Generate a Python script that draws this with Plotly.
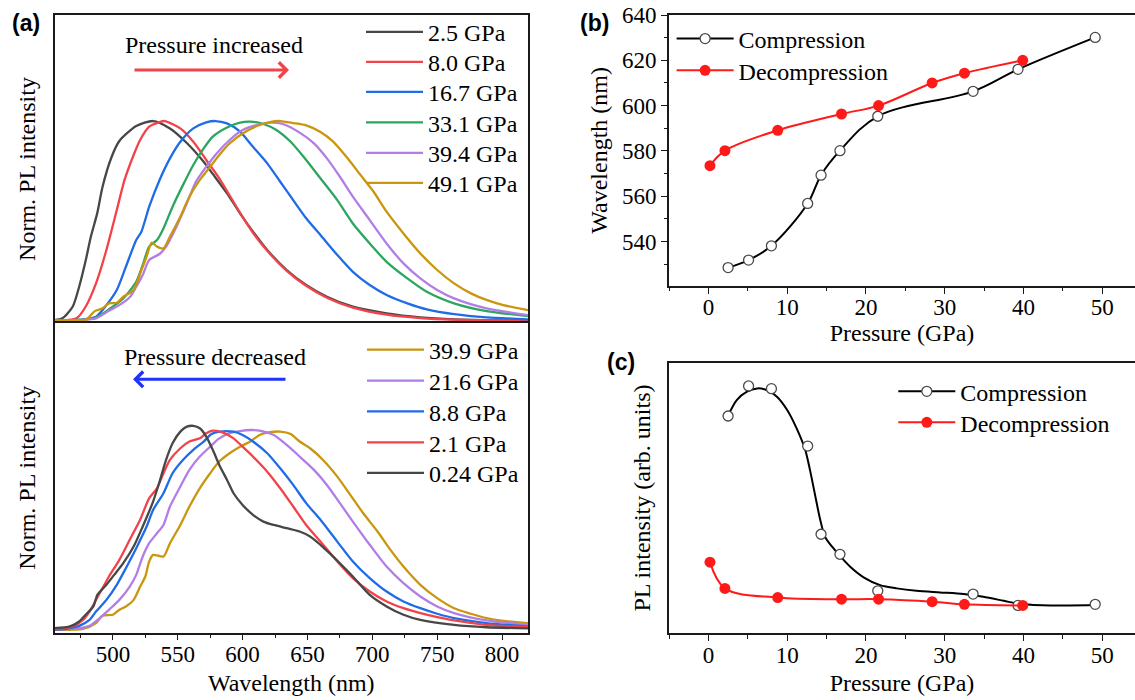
import plotly.graph_objects as go

# ---------------- (a) PL spectra under compression (normalized) ----------------
wl_25 = [455, 461, 469, 474, 479, 483, 488, 492, 499, 505, 518, 531, 544, 557, 570, 577,
         588, 598, 608, 619, 634, 649, 665, 685, 711, 737, 763, 820]
I_25 = [0.003, 0.012, 0.07, 0.17, 0.30, 0.42, 0.54, 0.67, 0.82, 0.90, 0.975, 1.0, 0.963, 0.89,
        0.796, 0.735, 0.638, 0.538, 0.446, 0.354, 0.254, 0.179, 0.12, 0.07, 0.037, 0.017, 0.007, 0.0]

wl_80 = [455, 465, 472, 479, 487, 495, 503, 509, 516, 521, 528, 536, 540, 552, 562, 572, 582,
         598, 608, 619, 634, 649, 665, 685, 711, 737, 763, 820]
I_80 = [0.0, 0.003, 0.012, 0.07, 0.187, 0.354, 0.554, 0.705, 0.83, 0.905, 0.972, 0.995, 1.0,
        0.963, 0.896, 0.805, 0.713, 0.541, 0.44, 0.35, 0.25, 0.175, 0.115, 0.065, 0.03, 0.013, 0.005, 0.0]

wl_167 = [455, 475, 487, 495, 503, 510, 518, 522, 528, 536, 544, 552, 562, 572, 579, 588, 598,
          608, 619, 629, 639, 649, 660, 673, 685, 698, 711, 727, 742, 763, 788, 820]
I_167 = [0.0, 0.004, 0.02, 0.078, 0.154, 0.27, 0.404, 0.446, 0.571, 0.705, 0.813, 0.896, 0.963,
         0.993, 1.0, 0.988, 0.947, 0.871, 0.788, 0.696, 0.604, 0.513, 0.429, 0.329, 0.245, 0.179,
         0.129, 0.087, 0.057, 0.033, 0.017, 0.007]

wl_331 = [455, 475, 487, 497, 508, 518, 523, 528, 534, 539, 546, 554, 562, 570, 577, 588, 598,
          606, 616, 626, 637, 647, 660, 673, 685, 698, 711, 727, 742, 763, 788, 820]
I_331 = [0.0, 0.005, 0.017, 0.057, 0.112, 0.195, 0.279, 0.371, 0.404, 0.462, 0.571, 0.679, 0.78,
         0.863, 0.922, 0.968, 0.992, 0.997, 0.985, 0.955, 0.896, 0.821, 0.713, 0.604, 0.487, 0.387,
         0.295, 0.212, 0.145, 0.087, 0.048, 0.023]

wl_394 = [455, 475, 487, 497, 505, 513, 518, 523, 528, 536, 541, 549, 557, 564, 572, 580, 590,
          600, 611, 621, 631, 644, 655, 665, 675, 685, 698, 711, 724, 737, 750, 763, 788, 820]
I_394 = [0.0, 0.004, 0.012, 0.05, 0.078, 0.117, 0.17, 0.229, 0.304, 0.334, 0.371, 0.471, 0.588,
         0.696, 0.771, 0.838, 0.905, 0.955, 0.98, 0.992, 0.985, 0.942, 0.888, 0.813, 0.721, 0.621,
         0.504, 0.387, 0.287, 0.212, 0.154, 0.112, 0.062, 0.028]

wl_491 = [455, 470, 479, 486, 492, 497, 503, 508, 516, 522, 526, 530, 534, 539, 544, 552, 559,
          567, 575, 582, 590, 600, 611, 621, 629, 639, 649, 660, 670, 680, 691, 701, 711, 724,
          737, 750, 763, 776, 788, 801, 820]
I_491 = [0.0, 0.002, 0.003, 0.048, 0.062, 0.087, 0.09, 0.12, 0.154, 0.254, 0.321, 0.391, 0.371,
         0.362, 0.421, 0.521, 0.621, 0.705, 0.771, 0.83, 0.888, 0.938, 0.975, 0.995, 1.0, 0.99,
         0.978, 0.945, 0.896, 0.821, 0.729, 0.646, 0.546, 0.437, 0.337, 0.254, 0.187, 0.137,
         0.104, 0.078, 0.053]

# ---------------- (a) PL spectra under decompression (normalized) ----------------
wl_399 = [455, 477, 487, 492, 500, 505, 510, 516, 521, 525, 528, 531, 539, 544, 552, 559, 567,
          575, 582, 590, 598, 606, 613, 621, 629, 637, 644, 652, 662, 673, 683, 693, 704, 714,
          724, 737, 750, 763, 776, 788, 801, 820]
I_399 = [0.0, 0.005, 0.034, 0.071, 0.076, 0.101, 0.118, 0.151, 0.218, 0.269, 0.345, 0.378, 0.37,
         0.437, 0.529, 0.622, 0.714, 0.79, 0.849, 0.891, 0.924, 0.95, 0.983, 0.997, 1.0, 0.988,
         0.95, 0.916, 0.857, 0.773, 0.681, 0.588, 0.496, 0.403, 0.319, 0.227, 0.16, 0.109, 0.081,
         0.059, 0.045, 0.034]

wl_216 = [455, 474, 482, 490, 497, 505, 513, 518, 523, 528, 534, 539, 544, 552, 559, 567, 575,
          582, 590, 598, 606, 613, 624, 634, 644, 655, 665, 675, 685, 698, 711, 724, 737, 750,
          763, 788, 820]
I_216 = [0.0, 0.008, 0.02, 0.059, 0.101, 0.151, 0.218, 0.277, 0.37, 0.437, 0.487, 0.529, 0.622,
         0.723, 0.807, 0.874, 0.924, 0.966, 0.992, 1.003, 1.008, 1.005, 0.983, 0.933, 0.874, 0.807,
         0.731, 0.639, 0.546, 0.429, 0.319, 0.235, 0.168, 0.118, 0.084, 0.047, 0.025]

wl_88 = [455, 464, 474, 482, 487, 495, 503, 510, 518, 526, 531, 539, 546, 554, 562, 570, 576,
         582, 593, 600, 608, 619, 629, 639, 649, 660, 673, 685, 698, 711, 724, 737, 750, 763,
         788, 820]
I_88 = [0.0, 0.005, 0.02, 0.05, 0.092, 0.151, 0.227, 0.311, 0.412, 0.521, 0.605, 0.689, 0.79,
        0.857, 0.908, 0.95, 0.988, 1.0, 1.0, 0.983, 0.95, 0.891, 0.815, 0.731, 0.639, 0.555,
        0.445, 0.345, 0.261, 0.193, 0.143, 0.109, 0.081, 0.059, 0.034, 0.017]

wl_21 = [455, 459, 469, 477, 482, 487, 492, 497, 505, 513, 521, 528, 534, 539, 544, 552, 559,
         567, 572, 577, 585, 593, 600, 608, 619, 629, 639, 649, 660, 673, 685, 698, 711, 724,
         737, 750, 763, 788, 820]
I_21 = [0.0, 0.005, 0.017, 0.05, 0.092, 0.151, 0.21, 0.269, 0.353, 0.454, 0.555, 0.664, 0.714,
        0.79, 0.857, 0.916, 0.95, 0.966, 0.992, 1.005, 0.995, 0.966, 0.924, 0.874, 0.798, 0.714,
        0.622, 0.529, 0.445, 0.345, 0.261, 0.193, 0.143, 0.109, 0.084, 0.064, 0.047, 0.025, 0.013]

wl_024 = [455, 467, 474, 479, 485, 488, 495, 501, 508, 516, 523, 531, 536, 541, 546, 552, 557,
          562, 567, 572, 577, 582, 588, 593, 600, 608, 616, 624, 634, 644, 652, 660, 667, 675,
          685, 698, 711, 724, 737, 763, 788, 820]
I_024 = [0.008, 0.017, 0.042, 0.076, 0.118, 0.176, 0.227, 0.277, 0.336, 0.42, 0.521, 0.647,
         0.748, 0.857, 0.941, 1.0, 1.025, 1.029, 1.017, 0.975, 0.908, 0.832, 0.756, 0.689, 0.63,
         0.58, 0.546, 0.529, 0.513, 0.496, 0.471, 0.429, 0.387, 0.336, 0.269, 0.176, 0.118,
         0.076, 0.05, 0.025, 0.013, 0.007]

comp_labels = ["2.5 GPa", "8.0 GPa", "16.7 GPa", "33.1 GPa", "39.4 GPa", "49.1 GPa"]
decomp_labels = ["39.9 GPa", "21.6 GPa", "8.8 GPa", "2.1 GPa", "0.24 GPa"]

# ---------------- (b) peak wavelength and (c) integrated PL intensity ----------------
P_comp = [2.5, 5.1, 8.0, 12.6, 14.3, 16.7, 21.5, 33.6, 39.3, 49.1]
WL_comp = [528.5, 531.8, 538.1, 556.8, 569.3, 580.1, 595.3, 606.3, 616.0, 630.1]
INT_comp = [80.3, 91.4, 90.4, 69.2, 36.6, 29.2, 15.7, 14.5, 10.3, 10.7]

P_dec = [0.2, 2.1, 8.8, 16.9, 21.6, 28.4, 32.5, 39.9]
WL_dec = [573.5, 580.1, 589.1, 596.3, 600.0, 610.0, 614.3, 620.0]
INT_dec = [26.3, 16.6, 13.2, 12.6, 12.6, 11.7, 10.7, 10.3]

# smoothed guide curve through the compression intensities in (c)
P_comp_fit = [2.5, 3.6, 4.9, 6.2, 7.4, 8.7, 10.0, 11.2, 12.3, 12.9, 13.5, 14.2, 14.8, 15.7,
              16.7, 18.0, 19.7, 21.8, 23.9, 26.4, 29.4, 32.4, 34.9, 37.5, 39.6, 41.2, 43.4, 49.1]
INT_comp_fit = [80.5, 86.2, 89.3, 90.5, 89.9, 87.4, 82.5, 75.7, 67.7, 60.3, 51.7, 41.9, 35.7,
                32.0, 28.6, 24.6, 20.7, 17.8, 16.6, 15.7, 15.1, 14.5, 13.5, 12.0, 10.8, 10.5,
                10.3, 10.5]

series_names = ["Compression", "Decompression"]

# ---------------- styling ----------------
W, H = 1135, 700
SERIF = "Liberation Serif, Times New Roman, serif"
SANS = "Liberation Sans, Arial, sans-serif"
C_BLACK = "#474747"
C_RED = "#f2424a"
C_BLUE = "#1f6de6"
C_GREEN = "#2ba65f"
C_PURPLE = "#b27de6"
C_GOLD = "#c9960e"
C_DEC = "#ff1a1a"

comp_colors = [C_BLACK, C_RED, C_BLUE, C_GREEN, C_PURPLE, C_GOLD]
decomp_colors = [C_GOLD, C_PURPLE, C_BLUE, C_RED, C_BLACK]


def fx(px):
    return px / W


def fy(py):
    return 1 - py / H


def gapped(vals):
    """Interleave None so markers are shown without connecting segments."""
    out = []
    for v in vals:
        out += [v, None]
    return out[:-1]


fig = go.Figure()
legend_layout = {}
legend_count = [0]


def new_legend(x_line_start, y_center, size=24):
    legend_count[0] += 1
    key = "legend" if legend_count[0] == 1 else f"legend{legend_count[0]}"
    legend_layout[key] = dict(
        x=fx(x_line_start - 5), y=fy(y_center), xanchor="left", yanchor="middle",
        bgcolor="rgba(0,0,0,0)", borderwidth=0, itemwidth=57,
        font=dict(family=SERIF, size=size, color="black"))
    return key


rows_top = [32.3, 62.2, 92.3, 122.7, 153.2, 183.3]
rows_bot = [350.0, 381.0, 411.7, 442.7, 473.3]

comp_sets = [(wl_25, I_25), (wl_80, I_80), (wl_167, I_167),
             (wl_331, I_331), (wl_394, I_394), (wl_491, I_491)]
for (wl, inten), name, col, row in zip(comp_sets, comp_labels, comp_colors, rows_top):
    fig.add_trace(go.Scatter(x=wl, y=inten, name=name, mode="lines",
                             line=dict(color=col, width=2.3, shape="spline", smoothing=0.7),
                             xaxis="x", yaxis="y", legend=new_legend(366, row)))

decomp_sets = [(wl_399, I_399), (wl_216, I_216), (wl_88, I_88), (wl_21, I_21), (wl_024, I_024)]
for (wl, inten), name, col, row in zip(decomp_sets, decomp_labels, decomp_colors, rows_bot):
    fig.add_trace(go.Scatter(x=wl, y=inten, name=name, mode="lines",
                             line=dict(color=col, width=2.3, shape="spline", smoothing=0.7),
                             xaxis="x2", yaxis="y2", legend=new_legend(367, row)))

open_marker = dict(symbol="circle", size=10, color="white", line=dict(color="#4a4a4a", width=1.3))
fill_marker = dict(symbol="circle", size=11, color=C_DEC, line=dict(color=C_DEC, width=0))

# (b) wavelength vs pressure
fig.add_trace(go.Scatter(x=P_comp, y=WL_comp, name=series_names[0], mode="lines+markers",
                         line=dict(color="black", width=2, shape="spline", smoothing=1.0),
                         marker=open_marker, xaxis="x3", yaxis="y3",
                         legend=new_legend(676.6, 39.0)))
fig.add_trace(go.Scatter(x=P_dec, y=WL_dec, name=series_names[1], mode="lines+markers",
                         line=dict(color=C_DEC, width=2, shape="spline", smoothing=1.0),
                         marker=fill_marker, xaxis="x3", yaxis="y3",
                         legend=new_legend(676.6, 70.7)))

# (c) intensity vs pressure
fig.add_trace(go.Scatter(x=P_comp_fit, y=INT_comp_fit, mode="lines", showlegend=False,
                         line=dict(color="black", width=2, shape="spline", smoothing=0.8),
                         xaxis="x4", yaxis="y4", hoverinfo="skip"))
fig.add_trace(go.Scatter(x=gapped(P_comp), y=gapped(INT_comp), name=series_names[0],
                         mode="lines+markers", connectgaps=False,
                         line=dict(color="black", width=2),
                         marker=open_marker, xaxis="x4", yaxis="y4",
                         legend=new_legend(898.3, 391.7)))
fig.add_trace(go.Scatter(x=P_dec, y=INT_dec, name=series_names[1], mode="lines+markers",
                         line=dict(color=C_DEC, width=2, shape="spline", smoothing=1.0),
                         marker=fill_marker, xaxis="x4", yaxis="y4",
                         legend=new_legend(898.3, 422.7)))

axis_font = dict(family=SERIF, size=23, color="black")
title_font = dict(family=SERIF, size=24, color="black")
frame = dict(showline=True, linecolor="#1a1a1a", linewidth=1.6, showgrid=False,
             zeroline=False, automargin=False)
tick_style = dict(ticks="outside", ticklen=6, tickwidth=1.4, tickcolor="#1a1a1a")

x_a = [fx(54.5), fx(528)]
x_bc = [fx(669), 1.0]

fig.update_layout(
    template="none",
    width=W, height=H,
    margin=dict(l=0, r=0, t=0, b=0, pad=0),
    paper_bgcolor="white", plot_bgcolor="white",
    showlegend=True,
    font=dict(family=SERIF, size=23, color="black"),
    # (a) upper panel
    xaxis=dict(domain=x_a, range=[455, 820], anchor="y", side="top", mirror=False,
               showticklabels=False, ticks="", **frame),
    yaxis=dict(domain=[fy(323), fy(15)], range=[-0.0115, 1.531], anchor="x", mirror=True,
               showticklabels=False, ticks="",
               title=dict(text="Norm. PL intensity", font=title_font, standoff=10), **frame),
    # (a) lower panel
    xaxis2=dict(domain=x_a, range=[455, 820], anchor="y2", mirror=True,
                tick0=500, dtick=50, tickfont=axis_font, ticklabelstandoff=-6,
                minor=dict(ticks="outside", ticklen=3.5, dtick=25, tick0=475, tickcolor="#1a1a1a"),
                title=dict(text="Wavelength (nm)", font=title_font, standoff=8),
                **tick_style, **frame),
    yaxis2=dict(domain=[fy(632.5), fy(323)], range=[-0.0136, 1.548], anchor="x2", mirror=True,
                showticklabels=False, ticks="",
                title=dict(text="Norm. PL intensity", font=title_font, standoff=10), **frame),
    # (b)
    xaxis3=dict(domain=x_bc, range=[-5, 54.15], anchor="y3", mirror=True,
                tick0=0, dtick=10, tickfont=axis_font, ticklabelstandoff=-6,
                minor=dict(ticks="outside", ticklen=3.5, dtick=5, tick0=0, tickcolor="#1a1a1a"),
                title=dict(text="Pressure (GPa)", font=title_font, standoff=4),
                **tick_style, **frame),
    yaxis3=dict(domain=[fy(285.7), fy(15)], range=[520.5, 640], anchor="x3", mirror=False,
                tick0=540, dtick=20, tickfont=axis_font,
                minor=dict(ticks="outside", ticklen=3.5, dtick=10, tick0=530, tickcolor="#1a1a1a"),
                title=dict(text="Wavelength (nm)", font=title_font, standoff=8),
                **tick_style, **frame),
    # (c)
    xaxis4=dict(domain=x_bc, range=[-5, 54.15], anchor="y4", mirror=True,
                tick0=0, dtick=10, tickfont=axis_font, ticklabelstandoff=-6,
                minor=dict(ticks="outside", ticklen=3.5, dtick=5, tick0=0, tickcolor="#1a1a1a"),
                title=dict(text="Pressure (GPa)", font=title_font, standoff=7),
                **tick_style, **frame),
    yaxis4=dict(domain=[fy(633.3), fy(362.7)], range=[0, 100], anchor="x4", mirror=False,
                showticklabels=False, ticks="",
                title=dict(text="PL intensity (arb. units)", font=title_font, standoff=10),
                **frame),
)
fig.update_layout(**legend_layout)

annotations = [
    dict(text="<b>(a)</b>", x=fx(26), y=fy(23), xref="paper", yref="paper", showarrow=False,
         font=dict(family=SANS, size=23, color="black"), xanchor="center", yanchor="middle"),
    dict(text="<b>(b)</b>", x=fx(594), y=fy(23), xref="paper", yref="paper", showarrow=False,
         font=dict(family=SANS, size=23, color="black"), xanchor="center", yanchor="middle"),
    dict(text="<b>(c)</b>", x=fx(621), y=fy(362), xref="paper", yref="paper", showarrow=False,
         font=dict(family=SANS, size=23, color="black"), xanchor="center", yanchor="middle"),
    dict(text="Pressure increased", x=fx(214), y=fy(45), xref="paper", yref="paper",
         showarrow=False, font=dict(family=SERIF, size=24, color="black"),
         xanchor="center", yanchor="middle"),
    dict(text="Pressure decreased", x=fx(215), y=fy(357), xref="paper", yref="paper",
         showarrow=False, font=dict(family=SERIF, size=24, color="black"),
         xanchor="center", yanchor="middle"),
    # direction arrows
    dict(text="", x=fx(289), y=fy(70), xref="paper", yref="paper", showarrow=True,
         ax=-156, ay=0, arrowhead=4, arrowsize=1, arrowwidth=3, arrowcolor=C_RED, standoff=0),
    dict(text="", x=fx(133), y=fy(379.3), xref="paper", yref="paper", showarrow=True,
         ax=154, ay=0, arrowhead=4, arrowsize=1, arrowwidth=3, arrowcolor="#1e32ff", standoff=0),
]
fig.update_layout(annotations=annotations)

fig.write_html("out.html")
